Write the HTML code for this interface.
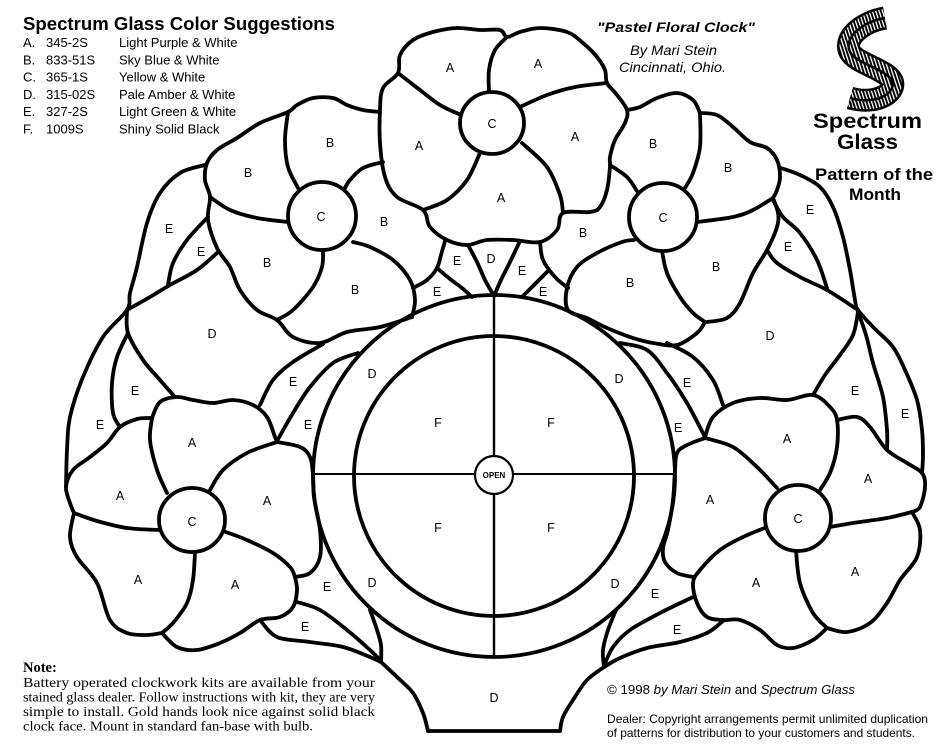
<!DOCTYPE html>
<html><head><meta charset="utf-8"><style>
html,body{margin:0;padding:0;background:#fff;}
svg{display:block;}
.l{fill:none;stroke:#000;stroke-width:3.8;stroke-linejoin:round;stroke-linecap:round;}
.t{font-family:"Liberation Sans",Arial,sans-serif;font-size:12.5px;text-anchor:middle;fill:#000;}
.s{font-family:"Liberation Sans",Arial,sans-serif;fill:#000;}
.sf{font-family:"Liberation Serif","Times New Roman",serif;fill:#000;}
</style></head><body>
<svg width="950" height="748" viewBox="0 0 950 748" xmlns="http://www.w3.org/2000/svg">
<defs>
<pattern id="hatch" width="3.2" height="3.2" patternUnits="userSpaceOnUse" patternTransform="rotate(-18)">
<rect width="3.2" height="3.2" fill="#000"/><rect x="0" y="0" width="1.3" height="3.2" fill="#fff"/>
</pattern>
</defs>
<rect width="950" height="748" fill="#fff"/>

<!-- Header text -->
<text class="s" x="23" y="30" font-size="18.6" font-weight="bold" textLength="312" lengthAdjust="spacingAndGlyphs">Spectrum Glass Color Suggestions</text>
<g class="s" font-size="13">
<text x="23" y="47">A.</text><text x="46" y="47">345-2S</text><text x="119" y="47">Light Purple &amp; White</text>
<text x="23" y="64.3">B.</text><text x="46" y="64.3">833-51S</text><text x="119" y="64.3">Sky Blue &amp; White</text>
<text x="23" y="81.6">C.</text><text x="46" y="81.6">365-1S</text><text x="119" y="81.6">Yellow &amp; White</text>
<text x="23" y="98.9">D.</text><text x="46" y="98.9">315-02S</text><text x="119" y="98.9">Pale Amber &amp; White</text>
<text x="23" y="116.2">E.</text><text x="46" y="116.2">327-2S</text><text x="119" y="116.2">Light Green &amp; White</text>
<text x="23" y="133.5">F.</text><text x="46" y="133.5">1009S</text><text x="119" y="133.5">Shiny Solid Black</text>
</g>

<text class="s" x="597" y="32" font-size="14" font-weight="bold" font-style="italic" textLength="158" lengthAdjust="spacingAndGlyphs">"Pastel Floral Clock"</text>
<text class="s" x="630" y="55" font-size="14" font-style="italic" textLength="87" lengthAdjust="spacingAndGlyphs">By Mari Stein</text>
<text class="s" x="619" y="72" font-size="14" font-style="italic" textLength="107" lengthAdjust="spacingAndGlyphs">Cincinnati, Ohio.</text>

<!-- Logo -->
<g fill="none" stroke-linecap="butt">
<path d="M 885,18 C 862,22 843,38 850,52 C 856,63 882,68 891,79 C 899,91 878,106 850,98" stroke="#000" stroke-width="23"/>
<path d="M 885,18 C 862,22 843,38 850,52 C 856,63 882,68 891,79 C 899,91 878,106 850,98" stroke="url(#hatch)" stroke-width="18"/>
<path d="M 885,18 C 862,22 843,38 850,52 C 856,63 882,68 891,79 C 899,91 878,106 850,98" stroke="#000" stroke-width="2.5"/>
</g>
<text class="s" x="849" y="106" font-size="6">®</text>
<text class="s" x="813" y="128" font-size="21.5" font-weight="bold" textLength="109" lengthAdjust="spacingAndGlyphs">Spectrum</text>
<text class="s" x="837" y="149" font-size="21.5" font-weight="bold" textLength="61" lengthAdjust="spacingAndGlyphs">Glass</text>
<text class="s" x="815" y="180" font-size="16.5" font-weight="bold" textLength="118" lengthAdjust="spacingAndGlyphs">Pattern of the</text>
<text class="s" x="849" y="200" font-size="16.5" font-weight="bold" textLength="52" lengthAdjust="spacingAndGlyphs">Month</text>

<!-- Note -->
<text class="sf" x="23" y="672" font-size="14.5" font-weight="bold">Note:</text>
<g class="sf" font-size="14">
<text x="23" y="687" textLength="352" lengthAdjust="spacingAndGlyphs">Battery operated clockwork kits are available from your</text>
<text x="23" y="701.5" textLength="352" lengthAdjust="spacingAndGlyphs">stained glass dealer. Follow instructions with kit, they are very</text>
<text x="23" y="716" textLength="352" lengthAdjust="spacingAndGlyphs">simple to install. Gold hands look nice against solid black</text>
<text x="23" y="730.5" textLength="290" lengthAdjust="spacingAndGlyphs">clock face. Mount in standard fan-base with bulb.</text>
</g>

<!-- Bottom right -->
<text class="s" x="607" y="694" font-size="13" textLength="248" lengthAdjust="spacingAndGlyphs">© 1998 <tspan font-style="italic">by Mari Stein</tspan> and <tspan font-style="italic">Spectrum Glass</tspan></text>
<text class="s" x="607" y="723" font-size="12" textLength="321" lengthAdjust="spacingAndGlyphs">Dealer:  Copyright arrangements permit unlimited duplication</text>
<text class="s" x="607" y="737" font-size="12" textLength="308" lengthAdjust="spacingAndGlyphs">of patterns for distribution to your customers and students.</text>

<!-- Clock -->
<circle cx="494" cy="476" r="181" class="l"/>
<circle cx="494" cy="476" r="140" class="l" stroke-width="3.4"/>
<line x1="494" y1="295" x2="494" y2="657" stroke="#000" stroke-width="2.4"/>
<line x1="313" y1="474" x2="675" y2="474" stroke="#000" stroke-width="2"/>
<circle cx="494" cy="475" r="19" fill="#fff" stroke="#000" stroke-width="2.2"/>
<text class="s" x="494" y="478" font-size="8" font-weight="bold" text-anchor="middle">OPEN</text>

<g class="l" id="lead">
<!-- Top center flower -->
<polygon points="423,210 397,197 385,177 380,143 380,110 383,88 398,73 400,55 413,40 433,32 457,28 480,30 500,30 507,37 520,32 540,28 567,32 583,43 597,57 605,70 607,83 617,95 627,110 625,123 615,140 610,157 610,167 607,190 600,207 590,212 563,213 557,230 540,242 513,240 487,240 467,245 447,240 430,227"/>
<polyline points="507,37 495,50 489,70 489,93"/>
<polyline points="398,73 420,90 440,105 461,115"/>
<polyline points="607,83 575,87 547,95 522,106"/>
<polyline points="522,143 547,167 560,195 563,213"/>
<polyline points="480,153 467,180 447,200 423,210"/>

<!-- Top left flower -->
<polyline points="380,112 363,110 347,105 333,98 313,98 297,105 288,112 260,123 237,138 217,150 207,163 205,180 210,197 208,220 217,248 230,267 240,290 257,310 277,320 293,337 320,343 347,332 380,327 412,317"/>
<polyline points="353,242 370,247 393,260 410,280 415,300 412,317"/>
<polyline points="288,112 285,140 288,167 298,188"/>
<polyline points="383,162 363,168 350,180 345,188"/>
<polyline points="210,197 230,210 257,218 288,222"/>
<polyline points="277,320 293,310 313,287 322,267 323,250"/>
<polyline points="445,241 441,255 437,268 427,280 413,288"/>
<polyline points="437,268 450,279 462,288 472,297"/>

<!-- middle top -->
<polyline points="468,245 477,262 485,280 494,296"/>
<polyline points="520,241 510,262 501,280 494,296"/>
<polyline points="540,242 543,260 555,277 568,288"/>
<polyline points="549,270 535,284 522,297"/>

<!-- Top right flower -->
<polyline points="627,110 640,107 657,98 677,93 693,100 700,113"/>
<polyline points="700,113 700,147 693,173 685,188"/>
<polyline points="610,165 627,177 637,191"/>
<polyline points="700,113 717,115 733,127 750,142 767,148 777,160 780,177 777,190 773,198"/>
<polyline points="773,198 753,210 733,217 697,222"/>
<polyline points="773,198 778,213 777,227 767,250 753,273 740,303 727,318 707,322"/>
<polyline points="662,251 667,273 680,297 693,313 705,322"/>
<polyline points="705,322 697,333 677,345 653,343 633,338 607,328 587,318 568,310 567,288 577,267 597,253 622,242 634,240"/>

<!-- Left leaves -->
<polyline points="205,165 180,173 160,193 147,223 137,267 130,293 127,310 103,337 83,377 70,417 67,450 66,487"/>
<polyline points="208,217 187,240 173,263 168,285"/>
<polyline points="127,310 150,297 170,285 197,270 217,253"/>
<polyline points="127,310 128,333 143,360 160,380 175,397"/>
<polyline points="128,333 117,357 112,383 113,413 120,427"/>
<polyline points="323,344 293,362 273,380 260,405"/>
<polyline points="358,353 333,363 310,387 293,413 277,441"/>

<!-- Left flower -->
<polyline points="152,418 160,402 177,397 193,400 213,403 233,400 253,405 267,417 275,437 277,442"/>
<polyline points="152,418 150,440 157,470 167,493"/>
<polyline points="277,442 247,453 223,470 210,490"/>
<polyline points="277,442 300,447 310,457 313,475 314,497 320,530 320,557 310,573 295,577"/>
<polyline points="223,531 247,540 273,553 290,567 295,577"/>
<polyline points="295,577 297,590 293,607 280,617 260,620 240,633 220,643 197,650 177,647 162,633"/>
<polyline points="195,552 193,580 187,603 173,623 162,633"/>
<polyline points="162,633 147,635 127,633 110,620 97,583 77,557 70,537 74,513"/>
<polyline points="152,418 137,419 120,427 107,443 90,457 73,470 66,487 70,503 74,513"/>
<polyline points="74,513 97,521 127,528 159,530"/>

<!-- Lower leaves & base -->
<polyline points="297,602 320,610 347,630 370,650 381,661"/>
<polyline points="260,620 277,637 310,642 343,647 370,657 381,662"/>
<polyline points="370,610 377,630 381,645 381,662"/>
<polyline points="381,662 397,677 413,693 423,713 428,731"/>
<polyline points="560,731 563,717 573,700 587,680 604,667"/>
<polyline points="616,610 608,630 603,650 604,667"/>
<polyline points="693,597 660,613 630,630 613,647 604,666"/>
<polyline points="723,621 707,633 680,642 647,648 620,658 604,667"/>

<!-- Right flower -->
<polyline points="705,437 713,417 733,403 760,398 787,400 813,395 830,407 837,420 837,447 830,473 818,493"/>
<polyline points="705,438 733,447 757,467 777,488"/>
<polyline points="705,438 687,445 677,453 675,470 673,500 668,530 663,548 665,562 677,573 693,577"/>
<polyline points="837,420 857,417 870,427 887,450 907,463 922,473 925,487 920,507 912,512"/>
<polyline points="830,527 853,523 887,518 912,512"/>
<polyline points="912,512 920,530 917,557 900,580 887,603 870,623 847,632 827,628"/>
<polyline points="796,551 800,583 813,613 827,628"/>
<polyline points="827,628 813,640 793,648 777,645 760,630 740,620 723,620 707,617 697,603 693,583 700,570 720,550 743,537 767,527"/>

<!-- Right leaves -->
<polyline points="781,168 800,175 820,187 833,207 843,237 850,270 855,300 858,310 873,327 893,347 905,370 917,400 922,430 923,455 922,473"/>
<polyline points="773,200 783,217 800,233 817,260 827,288"/>
<polyline points="767,250 777,263 800,277 827,290 858,310"/>
<polyline points="858,312 853,335 840,355 825,375 813,395"/>
<polyline points="858,312 866,335 873,363 883,397 887,430 887,450"/>
<polyline points="667,343 693,357 713,380 723,405"/>
<polyline points="620,343 647,350 667,373 687,403 705,437"/>
</g>

<g class="l">
<line x1="428" y1="731" x2="560" y2="731"/>
<ellipse cx="492" cy="123" rx="32" ry="31" fill="#fff"/>
<circle cx="322" cy="216" r="34" fill="#fff"/>
<circle cx="663" cy="217" r="34" fill="#fff"/>
<ellipse cx="192" cy="520" rx="33" ry="32" fill="#fff"/>
<circle cx="798" cy="518" r="33" fill="#fff"/>
</g>

<!-- Labels -->
<g class="t">
<text x="450" y="72">A</text><text x="538" y="68">A</text><text x="492" y="128">C</text><text x="419" y="150">A</text><text x="575" y="141">A</text><text x="501" y="202">A</text>
<text x="330" y="147">B</text><text x="248" y="177">B</text><text x="321" y="221">C</text><text x="384" y="226">B</text><text x="267" y="267">B</text><text x="355" y="294">B</text>
<text x="653" y="148">B</text><text x="728" y="172">B</text><text x="663" y="222">C</text><text x="583" y="237">B</text><text x="716" y="271">B</text><text x="630" y="287">B</text>
<text x="457" y="265">E</text><text x="491" y="263">D</text><text x="522" y="275">E</text><text x="437" y="296">E</text><text x="543" y="296">E</text>
<text x="169" y="233">E</text><text x="201" y="256">E</text><text x="810" y="214">E</text><text x="788" y="251">E</text>
<text x="212" y="338">D</text><text x="770" y="340">D</text>
<text x="293" y="386">E</text><text x="308" y="429">E</text><text x="372" y="378">D</text><text x="619" y="383">D</text><text x="687" y="387">E</text><text x="678" y="432">E</text>
<text x="135" y="395">E</text><text x="100" y="429">E</text><text x="855" y="395">E</text><text x="905" y="418">E</text>
<text x="192" y="447">A</text><text x="120" y="500">A</text><text x="192" y="526">C</text><text x="267" y="505">A</text><text x="138" y="584">A</text><text x="235" y="589">A</text>
<text x="787" y="443">A</text><text x="868" y="483">A</text><text x="710" y="504">A</text><text x="798" y="523">C</text><text x="855" y="576">A</text><text x="756" y="587">A</text>
<text x="327" y="591">E</text><text x="372" y="587">D</text><text x="615" y="588">D</text><text x="655" y="598">E</text><text x="305" y="631">E</text><text x="677" y="634">E</text>
<text x="494" y="702">D</text>
<text x="438" y="427">F</text><text x="551" y="427">F</text><text x="438" y="532">F</text><text x="551" y="532">F</text>
</g>
</svg>
<script>
(function(){
  var els = document.querySelectorAll('#lead polyline, #lead polygon');
  for (var k=0;k<els.length;k++){
    var el = els[k];
    var nums = el.getAttribute('points').trim().split(/[\s,]+/).map(Number);
    var p=[]; for(var i=0;i+1<nums.length;i+=2){p.push([nums[i],nums[i+1]]);}
    var closed = el.tagName.toLowerCase()==='polygon';
    var n=p.length;
    var get=function(i){ return closed ? p[((i%n)+n)%n] : p[Math.max(0,Math.min(n-1,i))]; };
    var d='M'+p[0][0]+','+p[0][1];
    var segs = closed ? n : n-1;
    for(var s=0;s<segs;s++){
      var p0=get(s-1),p1=get(s),p2=get(s+1),p3=get(s+2);
      var c1x=p1[0]+(p2[0]-p0[0])/6, c1y=p1[1]+(p2[1]-p0[1])/6;
      var c2x=p2[0]-(p3[0]-p1[0])/6, c2y=p2[1]-(p3[1]-p1[1])/6;
      d+='C'+c1x.toFixed(1)+','+c1y.toFixed(1)+' '+c2x.toFixed(1)+','+c2y.toFixed(1)+' '+p2[0]+','+p2[1];
    }
    if(closed) d+='Z';
    var path=document.createElementNS('http://www.w3.org/2000/svg','path');
    path.setAttribute('d',d);
    el.parentNode.replaceChild(path, el);
  }
})();
</script>
</body></html>
